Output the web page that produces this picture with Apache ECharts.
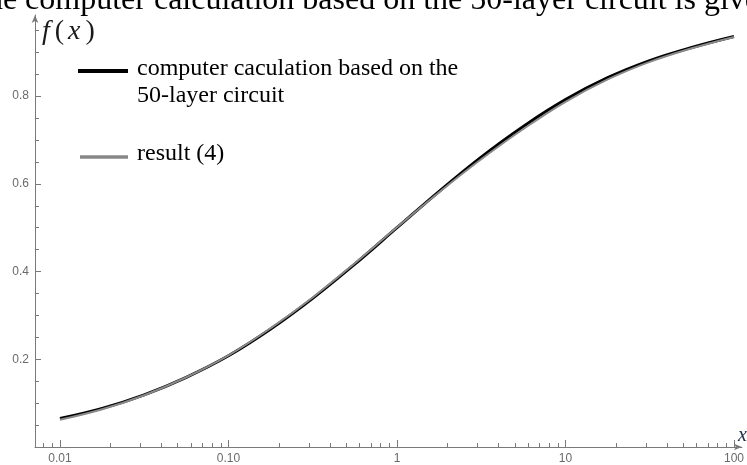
<!DOCTYPE html>
<html>
<head>
<meta charset="utf-8">
<script src="https://cdn.jsdelivr.net/npm/echarts@6/dist/echarts.min.js"></script>
<style>
html,body{margin:0;padding:0;background:#fff;}
#chart{width:747px;height:465px;}
</style>
</head>
<body>
<div id="chart"></div>
<script>
// ---- data ----
var xValues = [0.01, 0.0178, 0.0316, 0.0562, 0.1, 0.178, 0.316, 0.562, 1, 1.78, 3.16, 5.62, 10, 17.8, 31.6, 56.2, 100];
var computerValues = [0.065, 0.088, 0.119, 0.159, 0.208, 0.269, 0.339, 0.417, 0.500, 0.583, 0.661, 0.731, 0.792, 0.842, 0.881, 0.911, 0.936];
var resultValues   = [0.062, 0.086, 0.118, 0.159, 0.209, 0.271, 0.341, 0.419, 0.501, 0.581, 0.656, 0.725, 0.787, 0.838, 0.878, 0.909, 0.935];
var seriesNames = ["computer caculation based on the\n50-layer circuit", "result (4)"];
var xMajorTicks = [0.01, 0.1, 1, 10, 100];
var xTickLabels = ["0.01", "0.10", "1", "10", "100"];
var xMinorTicks = [0.008, 0.009, 0.02, 0.03, 0.04, 0.05, 0.06, 0.07, 0.08, 0.09,
                   0.2, 0.3, 0.4, 0.5, 0.6, 0.7, 0.8, 0.9,
                   2, 3, 4, 5, 6, 7, 8, 9, 20, 30, 40, 50, 60, 70, 80, 90];
var yMajorTicks = [0.2, 0.4, 0.6, 0.8];
var yTickLabels = ["0.2", "0.4", "0.6", "0.8"];
var yMinorTicks = [0.05, 0.1, 0.15, 0.25, 0.3, 0.35, 0.45, 0.5, 0.55, 0.65, 0.7, 0.75, 0.85, 0.9, 0.95];
var titleText = "the computer calculation based on the 50-layer circuit is given";

function pairs(xs, ys) { return xs.map(function (x, i) { return [x, ys[i]]; }); }

var chart = echarts.init(document.getElementById('chart'), null, {renderer: 'canvas'});
var axisColor = '#7a7a7a';
var labelStyle = {color: '#6a6a6a', fontFamily: 'Liberation Sans, Arial, sans-serif', fontSize: 12};
var xMin = 0.00711, xMax = 111.5, yMin = 0, yMax = 0.985;

var option = {
  animation: false,
  backgroundColor: '#ffffff',
  grid: {left: 35, right: 3, top: 15, bottom: 17, containLabel: false},
  xAxis: [
    {
      type: 'log', logBase: 10, min: xMin, max: xMax,
      axisLine: {show: true, onZero: false, lineStyle: {color: axisColor, width: 1}, symbol: ['none', 'arrow'], symbolSize: [5, 8]},
      axisTick: {show: true, inside: true, length: 7, lineStyle: {color: axisColor}, customValues: xMajorTicks},
      axisLabel: Object.assign({show: true, margin: 6, customValues: xMajorTicks,
        formatter: function (v) {
          for (var i = 0; i < xMajorTicks.length; i++) {
            if (Math.abs(Math.log10(v) - Math.log10(xMajorTicks[i])) < 1e-6) return xTickLabels[i];
          }
          return '';
        }}, labelStyle),
      splitLine: {show: false}, minorTick: {show: false}
    },
    {
      type: 'log', logBase: 10, min: xMin, max: xMax, position: 'bottom',
      axisLine: {show: false},
      axisTick: {show: true, inside: true, length: 4, lineStyle: {color: axisColor}, customValues: xMinorTicks},
      axisLabel: {show: false},
      splitLine: {show: false}
    }
  ],
  yAxis: [
    {
      type: 'value', min: yMin, max: yMax, position: 'left',
      axisLine: {show: true, onZero: false, lineStyle: {color: axisColor, width: 1}, symbol: ['none', 'arrow'], symbolSize: [5, 8]},
      axisTick: {show: true, inside: true, length: 6, lineStyle: {color: axisColor}, customValues: yMajorTicks},
      axisLabel: Object.assign({show: true, margin: 6, customValues: yMajorTicks,
        formatter: function (v) {
          for (var i = 0; i < yMajorTicks.length; i++) {
            if (Math.abs(v - yMajorTicks[i]) < 1e-6) return yTickLabels[i];
          }
          return '';
        }}, labelStyle),
      splitLine: {show: false}
    },
    {
      type: 'value', min: yMin, max: yMax, position: 'left', offset: 0,
      axisLine: {show: false},
      axisTick: {show: true, inside: true, length: 4, lineStyle: {color: axisColor}, customValues: yMinorTicks},
      axisLabel: {show: false},
      splitLine: {show: false}
    }
  ],
  series: [
    {
      name: seriesNames[0], type: 'line', xAxisIndex: 0, yAxisIndex: 0,
      data: pairs(xValues, computerValues), smooth: 0.4, showSymbol: false,
      lineStyle: {color: '#000000', width: 3}, z: 2
    },
    {
      name: seriesNames[1], type: 'line', xAxisIndex: 0, yAxisIndex: 0,
      data: pairs(xValues, resultValues), smooth: 0.4, showSymbol: false,
      lineStyle: {color: '#8a8a8a', width: 2}, z: 3
    }
  ],
  graphic: [
    {type: 'text', left: -22, top: -15, silent: true,
      style: {text: titleText, font: '32px "Liberation Serif", "Times New Roman", serif', fill: '#000'}},
    {type: 'text', x: 42, y: 32, silent: true,
      style: {
        text: '{i|f}{p|(}{i|x}{p|)}', verticalAlign: 'middle', fill: '#1a1a1a',
        rich: {
          i: {font: 'italic 28px "Liberation Serif", serif', fill: '#1a1a1a'},
          p: {font: '28px "Liberation Serif", serif', fill: '#1a1a1a', padding: [0, 4, 0, 5]}
        }
      }},
    {type: 'text', x: 738, y: 436, silent: true,
      style: {text: 'x', font: 'italic 20px "Liberation Serif", serif', fill: '#1a2a4a', verticalAlign: 'middle'}},
    {type: 'line', silent: true, shape: {x1: 78, y1: 71, x2: 128, y2: 71}, style: {stroke: '#000', lineWidth: 4}},
    {type: 'text', x: 137, y: 69, silent: true,
      style: {text: seriesNames[0].split('\n')[0], font: '24px "Liberation Serif", "Times New Roman", serif', fill: '#000', verticalAlign: 'middle'}},
    {type: 'text', x: 137, y: 96, silent: true,
      style: {text: seriesNames[0].split('\n')[1], font: '24px "Liberation Serif", "Times New Roman", serif', fill: '#000', verticalAlign: 'middle'}},
    {type: 'line', silent: true, shape: {x1: 80, y1: 157, x2: 128, y2: 157}, style: {stroke: '#888', lineWidth: 3.5}},
    {type: 'text', x: 137, y: 154, silent: true,
      style: {text: seriesNames[1], font: '24px "Liberation Serif", "Times New Roman", serif', fill: '#000', verticalAlign: 'middle'}}
  ]
};
chart.setOption(option);
</script>
</body>
</html>
